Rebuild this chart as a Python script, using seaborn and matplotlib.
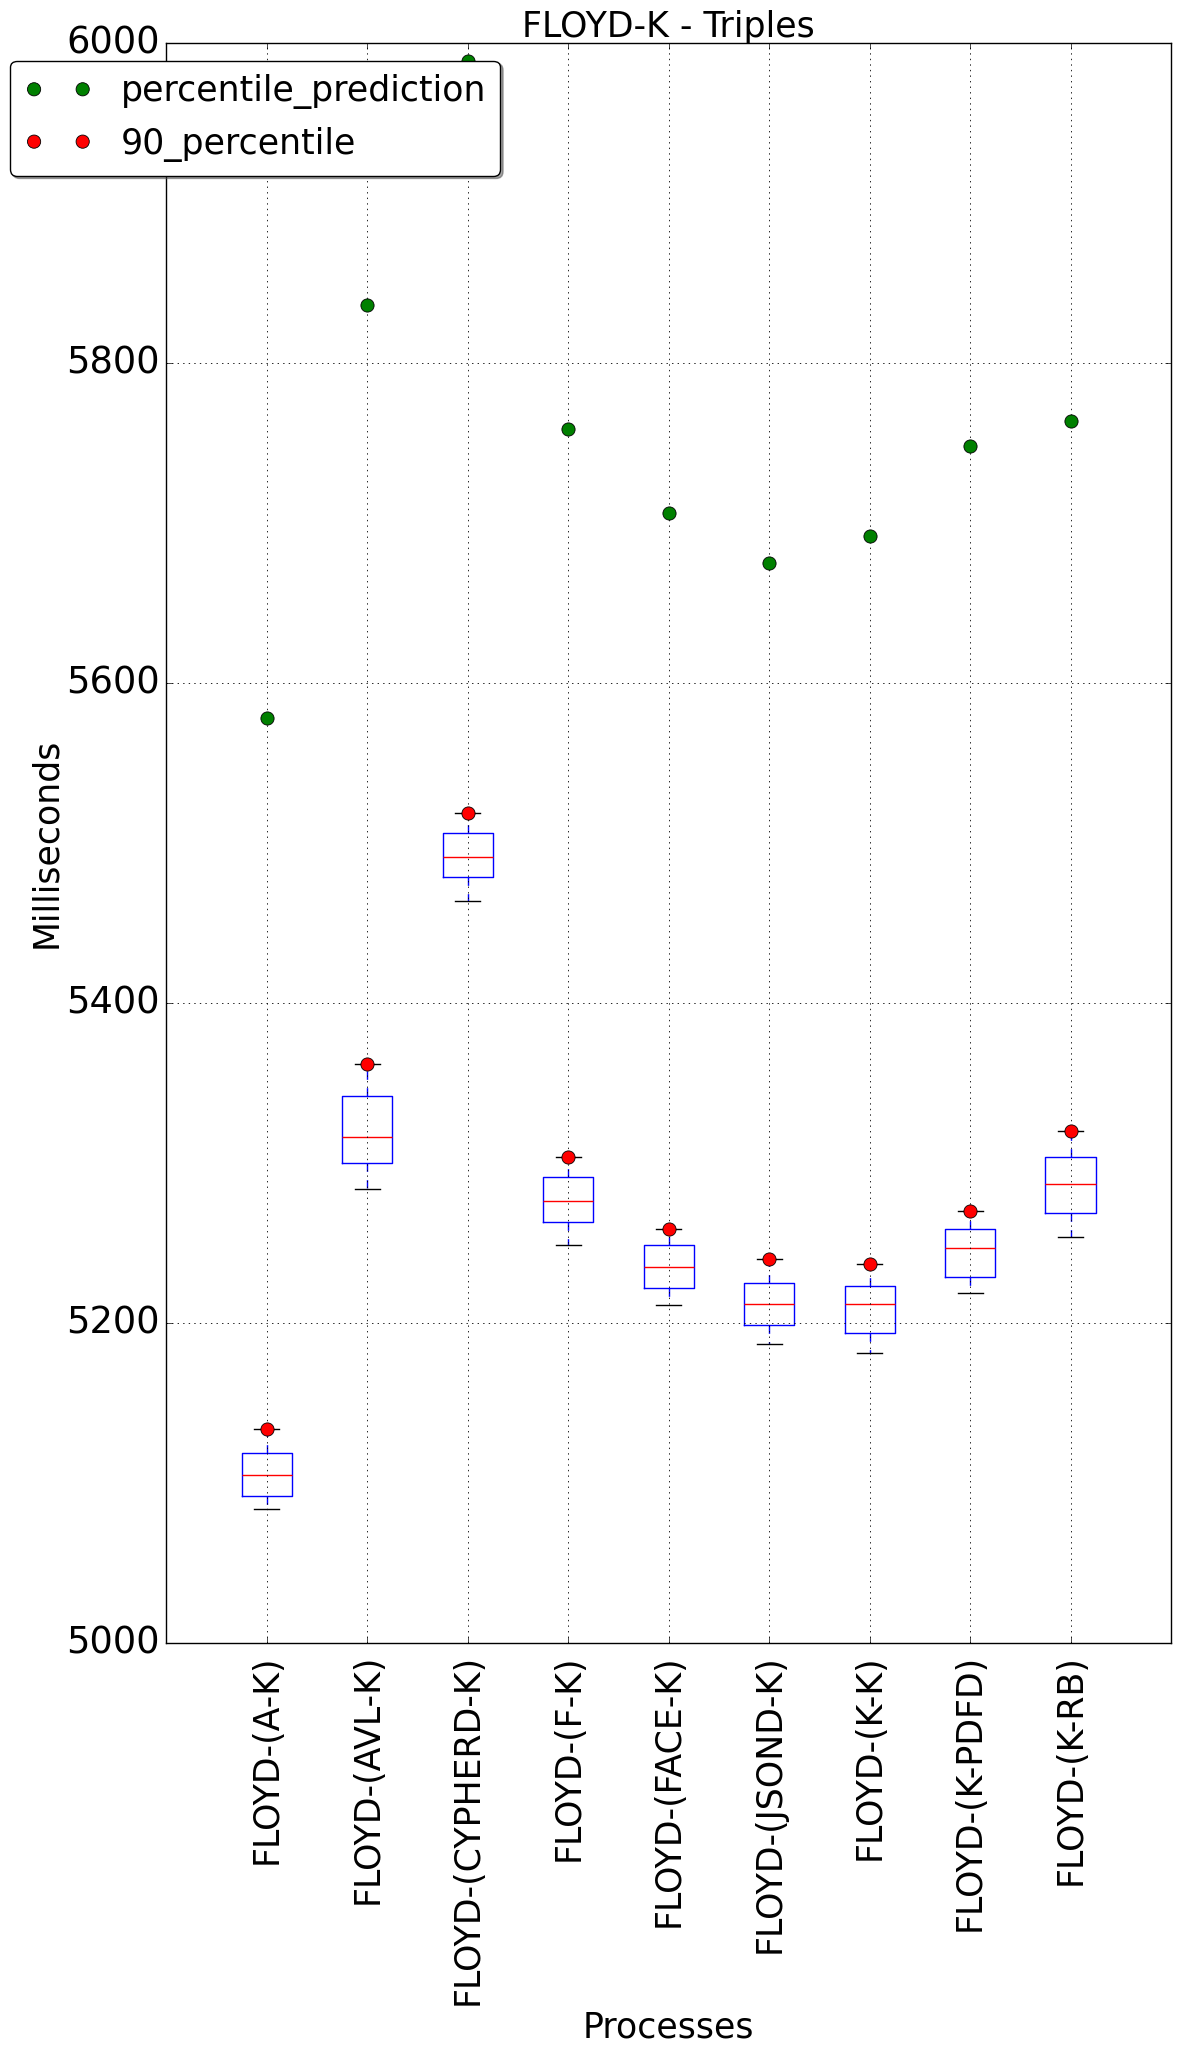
import matplotlib
matplotlib.use("Agg")
import matplotlib.pyplot as plt
import numpy as np
import pandas as pd
import seaborn as sns

categories = ["FLOYD-(A-K)", "FLOYD-(AVL-K)", "FLOYD-(CYPHERD-K)", "FLOYD-(F-K)",
              "FLOYD-(FACE-K)", "FLOYD-(JSOND-K)", "FLOYD-(K-K)", "FLOYD-(K-PDFD)",
              "FLOYD-(K-RB)"]
whisker_low = [5084, 5284, 5464, 5249, 5211, 5187, 5181, 5219, 5254]
q1 = [5092, 5300, 5479, 5263, 5222, 5199, 5194, 5229, 5269]
median = [5105, 5316, 5491, 5276, 5235, 5212, 5212, 5247, 5287]
q3 = [5119, 5342, 5506, 5291, 5249, 5225, 5223, 5259, 5304]
p90 = [5134, 5362, 5519, 5304, 5259, 5240, 5237, 5270, 5320]
prediction = [5578, 5836, 5989, 5759, 5706, 5675, 5692, 5748, 5764]
y_ticks = [5000, 5200, 5400, 5600, 5800, 6000]

rows = []
for c, lo, a, m, b, hi in zip(categories, whisker_low, q1, median, q3, p90):
    for v in (lo, a, m, b, hi):
        rows.append({"process": c, "ms": v})
df = pd.DataFrame(rows)

plt.style.use("classic")
plt.rcParams["font.family"] = ["DejaVu Sans"]

fig = plt.figure(figsize=(11.84, 20.55), dpi=100, facecolor="white")
ax = fig.add_axes([0.1406, 0.2005, 0.8484, 0.7786])

sns.boxplot(data=df, x="process", y="ms", order=categories, whis=(0, 100),
            width=0.5, fill=False, showfliers=False, ax=ax,
            boxprops=dict(color="blue", linewidth=1.0),
            medianprops=dict(color="red", linewidth=1.0),
            whiskerprops=dict(color="blue", linestyle="--", linewidth=1.0),
            capprops=dict(color="black", linewidth=1.0))

sns.stripplot(x=categories, y=prediction, order=categories, jitter=False,
              color="green", size=9.5, linewidth=0.6, edgecolor="black",
              label="percentile_prediction", ax=ax, zorder=4)
sns.stripplot(x=categories, y=p90, order=categories, jitter=False,
              color="red", size=9.5, linewidth=0.6, edgecolor="black",
              label="90_percentile", ax=ax, zorder=4)

ax.set_xlim(-1, 9)
ax.set_ylim(5000, 6000)
ax.set_yticks(y_ticks)
ax.set_xticks(range(len(categories)))
ax.set_xticklabels(categories, rotation=90)
ax.tick_params(direction="in", top=True, right=True, labelsize=26.5)
ax.tick_params(axis="x", pad=8, labelsize=25)
ax.tick_params(axis="y", pad=5)
ax.grid(True, linestyle=":", color="black", linewidth=0.6)
ax.set_axisbelow(False)

ax.set_title("FLOYD-K - Triples", fontsize=25, pad=4)
ax.set_xlabel("Processes", fontsize=25, labelpad=4)
ax.set_ylabel("Milliseconds", fontsize=25, labelpad=2)

handles, labels = ax.get_legend_handles_labels()
uniq = {}
for h, l in zip(handles, labels):
    if l not in uniq:
        uniq[l] = h
leg = ax.legend(list(uniq.values()), list(uniq.keys()), loc="upper left",
                bbox_to_anchor=(-0.156, 0.989), borderaxespad=0,
                scatterpoints=2, scatteryoffsets=[0.5], fancybox=True,
                shadow=True, fontsize=25, framealpha=1, edgecolor="black",
                handlelength=2, handletextpad=0.8, borderpad=0.4,
                labelspacing=0.5)
leg.set_zorder(10)

fig.savefig("out.png", dpi=100, facecolor="white")
